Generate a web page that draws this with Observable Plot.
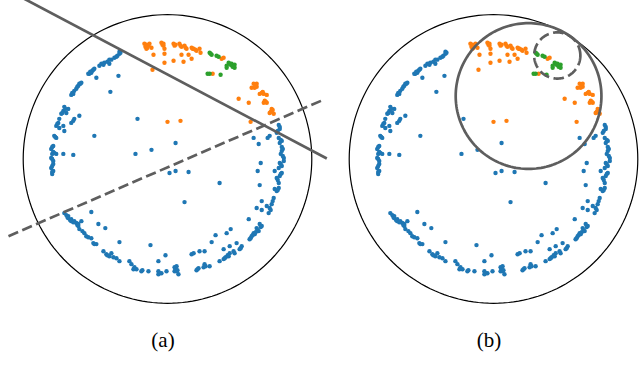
<!DOCTYPE html>
<html><head><meta charset="utf-8">
<script src="https://cdn.jsdelivr.net/npm/d3@7"></script>
<script src="https://cdn.jsdelivr.net/npm/@observablehq/plot@0.6"></script>
<style>html,body{margin:0;padding:0;background:#fff;} #chart{width:640px;height:387px;}</style>
</head><body><div id="chart"></div>
<script>
// Panels and labels
const panels = ["a", "b"];
const panelLabels = ["(a)", "(b)"];
const classNames = ["class 0", "class 1", "class 2"];
const classColors = ["#1f77b4", "#ff7f0e", "#2ca02c"];

// Embedded points in the unit (Poincaré) disk
const bluePoints = [
[-0.333,0.743],[-0.333,0.729],[-0.347,0.715],[-0.368,0.701],[-0.389,0.688],[-0.403,0.688],[-0.403,0.660],[-0.438,0.667],[-0.458,0.660],[-0.472,0.646],[-0.507,0.625],[-0.521,0.611],[-0.528,0.597],[-0.542,0.590],[-0.549,0.590],[-0.597,0.528],[-0.611,0.521],[-0.618,0.507],[-0.632,0.486],[-0.646,0.472],[-0.653,0.451],[-0.667,0.444],[-0.493,0.563],[-0.340,0.576],[-0.396,0.465],[-0.208,0.278],
[-0.326,0.736],[-0.354,0.708],[-0.417,0.674],[-0.444,0.653],[-0.514,0.618],[-0.535,0.604],[-0.604,0.521],[-0.625,0.500],[-0.660,0.458],
[-0.688,0.347],[-0.701,0.319],[-0.715,0.361],[-0.722,0.333],[-0.736,0.313],[-0.750,0.278],[-0.757,0.250],[-0.771,0.229],[-0.750,0.215],[-0.722,0.229],[-0.715,0.194],[-0.785,0.160],[-0.771,0.146],[-0.792,0.090],[-0.806,0.069],[-0.785,0.042],[-0.799,0.035],[-0.771,0.035],[-0.806,0.007],[-0.792,-0.014],[-0.792,-0.035],[-0.806,-0.063],[-0.792,-0.083],[-0.799,-0.104],[-0.646,0.278],[-0.653,0.264],[-0.611,0.299],[-0.667,0.250],
[-0.708,0.347],[-0.729,0.319],[-0.764,0.243],[-0.778,0.153],[-0.799,0.083],[-0.792,0.049],[-0.799,0.000],[-0.799,-0.049],[-0.799,-0.090],
[-0.507,0.160],[-0.722,0.035],[-0.653,0.028],[-0.222,0.035],[-0.111,0.063],[0.056,0.111],[0.014,-0.097],[0.056,-0.083],[0.146,-0.090],[0.361,-0.167],[0.118,-0.299],
[-0.715,-0.375],[-0.701,-0.389],[-0.688,-0.396],[-0.688,-0.410],[-0.667,-0.417],[-0.667,-0.431],[-0.646,-0.431],[-0.632,-0.444],[-0.618,-0.451],[-0.618,-0.465],[-0.611,-0.486],[-0.597,-0.431],[-0.576,-0.514],[-0.563,-0.535],[-0.528,-0.549],[-0.514,-0.583],[-0.493,-0.590],[-0.444,-0.639],[-0.424,-0.660],[-0.403,-0.674],[-0.389,-0.653],[-0.354,-0.688],[-0.333,-0.708],[-0.264,-0.708],[-0.250,-0.729],[-0.236,-0.764],[-0.215,-0.764],[-0.181,-0.778],[-0.132,-0.778],[-0.063,-0.778],[-0.063,-0.799],[-0.042,-0.792],[-0.007,-0.778],[0.049,-0.778],[0.063,-0.743],[0.049,-0.750],[0.063,-0.778],[0.076,-0.799],
[-0.694,-0.403],[-0.674,-0.424],[-0.653,-0.438],[-0.625,-0.458],[-0.590,-0.500],[-0.549,-0.542],[-0.507,-0.590],[-0.417,-0.667],[-0.375,-0.681],[-0.229,-0.750],[-0.174,-0.771],[-0.056,-0.792],[0.056,-0.764],[0.069,-0.771],
[-0.528,-0.368],[-0.479,-0.451],[-0.431,-0.479],[-0.333,-0.576],[-0.118,-0.597],[-0.014,-0.667],[-0.063,-0.708],
[0.201,-0.771],[0.215,-0.757],[0.250,-0.750],[0.257,-0.729],[0.292,-0.743],[0.361,-0.708],[0.389,-0.694],[0.396,-0.688],[0.424,-0.674],[0.431,-0.653],[0.465,-0.653],[0.500,-0.625],[0.514,-0.604],[0.569,-0.556],[0.583,-0.535],[0.604,-0.521],[0.632,-0.500],[0.618,-0.479],[0.597,-0.514],[0.653,-0.465],[0.639,-0.451],[0.701,-0.375],[0.708,-0.340],[0.722,-0.313],[0.688,-0.326],[0.736,-0.271],[0.757,-0.222],[0.771,-0.201],[0.653,-0.354],[0.618,-0.340],[0.653,-0.292],[0.639,-0.181],
[0.208,-0.764],[0.264,-0.743],[0.403,-0.681],[0.417,-0.667],[0.458,-0.639],[0.507,-0.618],[0.576,-0.549],[0.590,-0.528],[0.611,-0.507],[0.625,-0.493],[0.646,-0.472],[0.715,-0.354],[0.729,-0.292],[0.764,-0.215],
[0.167,-0.660],[0.222,-0.639],[0.257,-0.639],[0.306,-0.576],[0.333,-0.528],[0.410,-0.514],[0.438,-0.486],[0.563,-0.417],[0.389,-0.625],[0.431,-0.604],[0.479,-0.583],[0.181,-0.653],
[0.771,0.236],[0.778,0.208],[0.757,0.181],[0.771,0.146],[0.792,0.125],[0.778,0.111],[0.792,0.083],[0.792,0.056],[0.785,0.035],[0.806,0.007],[0.806,-0.014],[0.778,-0.028],[0.792,-0.049],[0.771,-0.063],[0.792,-0.097],[0.778,-0.118],[0.743,-0.083],[0.757,-0.132],[0.771,-0.167],[0.743,-0.208],
[0.778,0.222],[0.764,0.194],[0.785,0.132],[0.799,0.069],[0.799,0.021],[0.785,-0.035],[0.785,-0.104],[0.764,-0.146],
[0.708,0.160],[0.694,0.146],[0.597,0.146],[0.632,0.104],[0.646,-0.028],[0.625,-0.083]
];
const orangePoints = [
[-0.160,0.799],[-0.146,0.792],[-0.132,0.785],[-0.125,0.799],[-0.111,0.771],[-0.146,0.764],[-0.042,0.806],[-0.035,0.792],[-0.028,0.785],[-0.021,0.764],[0.042,0.799],[0.049,0.785],[0.083,0.799],[0.097,0.778],[0.118,0.785],[0.132,0.764],[0.167,0.771],[0.181,0.764],[0.201,0.750],[0.222,0.764],[0.229,0.736],
[-0.153,0.778],[-0.139,0.771],[-0.028,0.799],[0.056,0.792],[0.090,0.785],[0.125,0.771],[0.174,0.764],[0.194,0.757],
[-0.097,0.722],[-0.021,0.729],[-0.021,0.667],[0.042,0.681],[0.097,0.722],[0.111,0.674],[0.146,0.722],[0.167,0.694],[-0.104,0.618],[0.000,0.257],[0.090,0.264],[0.576,0.257],
[0.375,0.694],[0.389,0.701],[0.313,0.590],
[0.597,0.521],[0.604,0.493],[0.618,0.521],[0.583,0.493],[0.618,0.500],[0.653,0.458],[0.639,0.451],[0.667,0.451],[0.688,0.444],[0.674,0.403],[0.688,0.389],[0.667,0.389],[0.722,0.333],[0.708,0.319],[0.736,0.313],[0.722,0.347],[0.493,0.417],[0.563,0.389],
[0.611,0.507],[0.660,0.465],[0.681,0.396],[0.715,0.326],[0.729,0.340]
];
const greenPoints = [
[0.292,0.736],[0.306,0.722],[0.340,0.715],[0.354,0.708],[0.424,0.667],[0.431,0.660],[0.458,0.646],[0.465,0.653],[0.465,0.632],[0.410,0.646],[0.410,0.632],[0.444,0.660],[0.292,0.590],[0.368,0.583],[0.278,0.590],
[0.299,0.729],[0.438,0.653],[0.451,0.639]
];

// Decision boundaries: panel (a) straight lines (endpoints), panel (b) circles [cx, cy, r]
const solidLineA = [[-1.014, 1.121], [1.104, 0.003]];
const dashedLineA = [[-1.102, -0.535], [1.081, 0.410]];
const diskCircle = [0, 0, 1];
const solidCircleB = [0.243, 0.436, 0.505];
const dashedCircleB = [0.442, 0.717, 0.160];

// Build tables
const classData = [bluePoints, orangePoints, greenPoints];
const dots = panels.flatMap(p => classNames.flatMap((c, i) => classData[i].map(([x, y]) => ({panel: p, cls: c, x, y}))));
const segRows = (pts, panel) => pts.map(([x, y]) => ({panel, x, y}));
const angles = d3.range(0, 361, 2);
const circleRows = ([cx, cy, r], panel) => angles.map(a => ({panel, x: cx + r * Math.cos(a * Math.PI / 180), y: cy + r * Math.sin(a * Math.PI / 180)}));
const diskRows = panels.flatMap(p => circleRows(diskCircle, p));

const gray = "#5e5e5e";
const chart = Plot.plot({
  width: 640, height: 387,
  marginTop: 0, marginRight: 0, marginBottom: 77, marginLeft: 0,
  fx: {domain: panels, range: [8, 651], paddingInner: 0.0336, paddingOuter: 0, axis: null, label: null},
  x: {domain: [-1.095, 1.095], range: [0, 316], axis: null},
  y: {domain: [-1.050, 1.098], axis: null},
  color: {type: "ordinal", domain: classNames, range: classColors},
  style: {background: "#fff"},
  marks: [
    Plot.line(diskRows, {x: "x", y: "y", z: "panel", fx: "panel", stroke: "#000", strokeWidth: 1.2}),
    Plot.dot(dots, {x: "x", y: "y", fx: "panel", fill: "cls", r: 2.2}),
    Plot.line(segRows(solidLineA, "a"), {x: "x", y: "y", fx: "panel", stroke: gray, strokeWidth: 2.7, strokeLinecap: "butt"}),
    Plot.line(segRows(dashedLineA, "a"), {x: "x", y: "y", fx: "panel", stroke: gray, strokeWidth: 2.7, strokeDasharray: "10.5,4.5", strokeLinecap: "butt"}),
    Plot.line(circleRows(solidCircleB, "b"), {x: "x", y: "y", fx: "panel", stroke: gray, strokeWidth: 2.7}),
    Plot.line(circleRows(dashedCircleB, "b"), {x: "x", y: "y", fx: "panel", stroke: gray, strokeWidth: 2.7, strokeDasharray: "10.5,4.5", strokeLinecap: "butt"}),
    Plot.text(panels, {fx: d => d, text: (d, i) => panelLabels[i], frameAnchor: "bottom", dy: 36, dx: -4, fontSize: 21, fontFamily: "Liberation Serif", fill: "#000"})
  ]
});
document.getElementById("chart").appendChild(chart);
</script>
</body></html>
